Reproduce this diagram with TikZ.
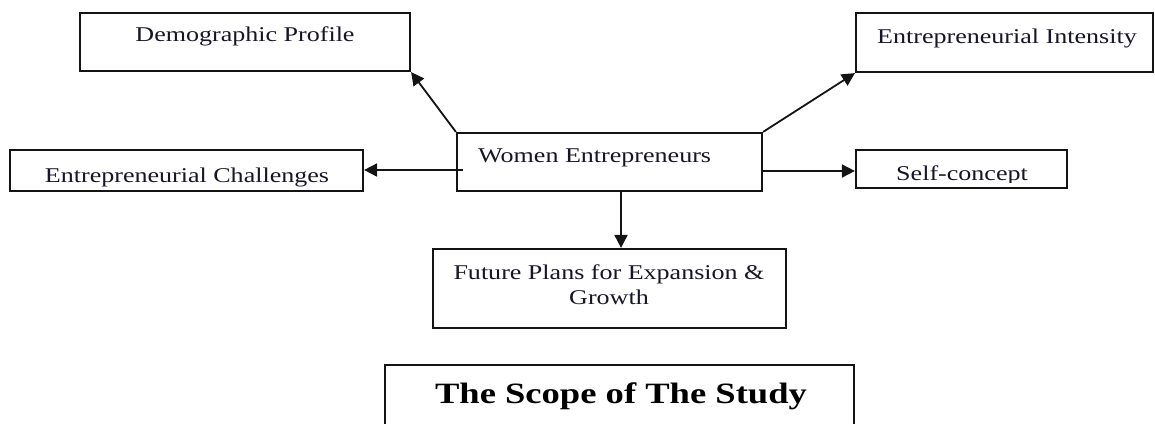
\documentclass[tikz,border=0pt]{standalone}
\usepackage{fontspec}
\setmainfont[FakeStretch=1.24]{Liberation Serif}
\usetikzlibrary{arrows.meta}
\definecolor{txtc}{RGB}{22,22,40}
\definecolor{linec}{RGB}{20,20,20}
\begin{document}
\begin{tikzpicture}[x=1pt,y=-1pt,
  boxnode/.style={draw=linec,line width=2.2pt,rectangle,inner sep=0pt,fill=white},
  lbl/.style={inner sep=0pt,text=txtc,font=\fontsize{21}{25}\selectfont},
  arr/.style={draw=linec,line width=1.8pt,-{Triangle[length=13pt,width=13pt]}}]
\useasboundingbox (0,0) rectangle (1155,423);
\begin{scope}
\clip (0,0) rectangle (1155,423);
% boxes
\node[boxnode,minimum width=330,minimum height=58] (demo) at (245,42) {};
\node[boxnode,minimum width=297,minimum height=59] (intens) at (1004.5,42.5) {};
\node[boxnode,minimum width=353,minimum height=41] (chall) at (186.5,170.5) {};
\node[boxnode,minimum width=305,minimum height=58] (women) at (609.5,162) {};
\node[boxnode,minimum width=211,minimum height=38] (self) at (961.5,169) {};
\node[boxnode,minimum width=353,minimum height=79] (future) at (609.5,288.5) {};
\node[boxnode,minimum width=469,minimum height=80] (scopebox) at (619.5,405) {};
% texts
\node[lbl,anchor=base] (tdemo) at (245,41) {Demographic Profile};
\node[lbl,anchor=base] (tintens) at (1007,43) {Entrepreneurial Intensity};
\node[lbl,anchor=base] (tchall) at (187,182) {Entrepreneurial Challenges};
\node[lbl,anchor=base west] (twomen) at (478,162) {Women Entrepreneurs};
\begin{scope}
\clip (857,151) rectangle (1066,182.5);
\node[lbl,anchor=base] (tself) at (962,180) {Self-concept};
\end{scope}
\node[lbl,anchor=base] (tfutA) at (609,279) {Future Plans for Expansion \&};
\node[lbl,anchor=base] (tfutB) at (609,304) {Growth};
\node[inner sep=0pt,text=black,font=\fontsize{29.5}{34}\selectfont\bfseries,anchor=base] (tscope) at (621,403) {The Scope of The Study};
% connectors
\coordinate (cl) at (463,170);
\coordinate (cr) at (762,171);
\coordinate (cd) at (621,191);
\draw[arr] (women.north west) -- (demo.south east);
\draw[arr] (women.north east) -- (intens.south west);
\draw[arr] (cl) -- (cl -| chall.east);
\draw[arr] (cr) -- (cr -| self.west);
\draw[arr] (cd) -- (cd |- future.north);
\end{scope}
\end{tikzpicture}
\end{document}
